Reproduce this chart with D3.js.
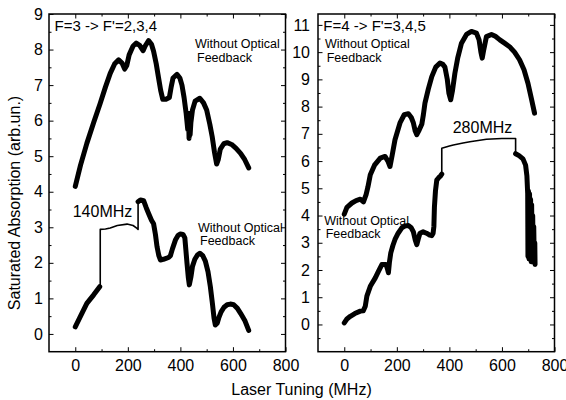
<!DOCTYPE html>
<html>
<head>
<meta charset="utf-8">
<script src="https://d3js.org/d3.v7.min.js"></script>
<style>
  body { margin: 0; background: #fff; }
  svg text { font-family: "Liberation Sans", Arial, Helvetica, sans-serif; fill: #000; }
</style>
</head>
<body>
<svg id="chart" width="566" height="400"></svg>
<script>
// values: [laser tuning (MHz), saturated absorption (arb.un.)]

// F=3 -> F'=2,3,4, without optical feedback
var f3Free = [[0,4.15],[20,4.75],[44,5.36],[70,5.95],[95,6.49],[115,6.95],[133,7.33],[150,7.6],[165,7.71],
  [178,7.62],[188,7.45],[196,7.55],[205,7.85],[220,8.1],[232,8.18],[245,8.12],[258,7.97],[266,8.1],[279,8.25],
  [290,8.15],[298,7.95],[308,7.6],[317,7.2],[325,6.85],[333,6.6],[345,6.6],[358,6.65],[365,6.95],[372,7.2],
  [387,7.3],[398,7.2],[406,7.0],[414,6.65],[422,6.2],[428,5.75],[431,6.2],[433,5.5],[435,6.2],[437,5.6],
  [440,5.95],[446,6.3],[456,6.55],[474,6.63],[488,6.5],[500,6.3],[512,5.9],[521,5.55],[530,5.1],[538,4.78],
  [544,4.9],[552,5.2],[565,5.35],[578,5.38],[595,5.33],[612,5.22],[629,5.08],[645,4.9],[660,4.67]];

// F=3, with feedback: before the jump, the 140 MHz plateau, after the jump
var f3LockA = [[0,0.2],[20,0.5],[44,0.86],[70,1.1],[93,1.33]];
var f3Plateau = [[95,1.33],[95,2.94],[115,2.95],[133,2.98],[160,3.05],[197,3.09],[220,3.05],[235,2.97],
  [239,2.94],[239,3.74]];
var f3LockB = [[239,3.72],[248,3.77],[260,3.75],[270,3.55],[279,3.39],[290,3.2],[298,3.1],[305,2.8],
  [311,2.46],[318,2.2],[324,2.08],[335,2.1],[343,2.12],[355,2.15],[362,2.2],[370,2.4],[381,2.64],[392,2.78],
  [400,2.81],[410,2.8],[417,2.7],[421,2.35],[425,2.0],[430,1.6],[434,1.38],[440,1.6],[446,1.9],[455,2.1],
  [465,2.22],[474,2.27],[485,2.2],[495,2.05],[505,1.75],[514,1.33],[522,0.85],[528,0.45],[533,0.25],
  [540,0.3],[546,0.45],[555,0.62],[566,0.75],[578,0.82],[590,0.84],[603,0.82],[617,0.72],[629,0.58],
  [645,0.38],[660,0.1]];

// F=4 -> F'=3,4,5, without optical feedback
var f4Free = [[0,4.05],[10,4.3],[29,4.46],[45,4.55],[61,4.6],[73,4.5],[83,4.77],[90,5.05],[99,5.5],
  [115,5.85],[137,6.11],[155,6.17],[166,6.0],[174,5.8],[182,6.2],[193,6.78],[212,7.4],[228,7.7],[244,7.74],
  [255,7.6],[263,7.4],[270,7.1],[276,6.97],[283,7.1],[295,7.35],[301,7.7],[307,8.13],[320,8.65],[333,9.1],
  [348,9.45],[364,9.6],[375,9.55],[383,9.45],[392,9.0],[398,8.5],[405,8.25],[412,8.6],[421,9.23],[432,9.8],
  [446,10.33],[465,10.65],[484,10.76],[503,10.7],[513,10.45],[520,10.0],[525,9.78],[531,10.1],[541,10.57],
  [560,10.65],[575,10.58],[592,10.45],[610,10.33],[629,10.2],[648,10.0],[667,9.72],[684,9.35],[699,8.86],
  [712,8.3],[724,7.76]];

// F=4, with feedback: before the jump, the 280 MHz plateau, after the jump
var f4LockA = [[0,0.06],[10,0.2],[23,0.3],[40,0.4],[61,0.49],[72,0.5],[80,0.67],[86,1.04],[99,1.4],
  [118,1.71],[130,1.95],[143,2.2],[159,2.2],[164,2.05],[168,1.9],[172,2.3],[177,2.63],[185,2.9],[193,3.12],
  [205,3.35],[219,3.55],[232,3.62],[244,3.63],[255,3.55],[263,3.4],[270,3.1],[276,2.93],[282,3.15],
  [288,3.35],[300,3.4],[313,3.35],[325,3.28],[333,3.26],[338,3.35],[341,3.6],[343,4.3],[347,4.9],
  [352,5.3],[360,5.4],[366,5.45],[371,5.52]];
var f4Plateau = [[371,5.52],[371,6.47],[400,6.55],[415,6.59],[452,6.66],[478,6.71],[541,6.8],[600,6.83],
  [652,6.83],[652,6.27]];
var f4LockB = [[652,6.27],[665,6.2],[680,6.08],[690,5.85],[695,5.45],[698,4.8],[699,2.5],[701,4.9],
  [703,2.4],[705,4.8],[707,2.4],[709,4.6],[711,2.3],[713,4.4],[715,2.3],[717,4.0],[719,2.4],[721,3.6],
  [723,2.3],[725,3.0],[726,2.2]];

var mhzMajor = [0, 200, 400, 600, 800];
var mhzMinor = [100, 300, 500, 700];
var leftMajor = [0, 1, 2, 3, 4, 5, 6, 7, 8, 9];
var leftMinor = [0.5, 1.5, 2.5, 3.5, 4.5, 5.5, 6.5, 7.5, 8.5];
var rightMajor = [0, 1, 2, 3, 4, 5, 6, 7, 8, 9, 10, 11];
var rightMinor = [-0.5, 0.5, 1.5, 2.5, 3.5, 4.5, 5.5, 6.5, 7.5, 8.5, 9.5, 10.5];

var svg = d3.select('#chart');
var plotTop = 14, plotBottom = 351.7;

function drawPanel(o) {
  var x = d3.scaleLinear().domain([-100, 800]).range([o.left, o.right]);
  var y = d3.scaleLinear().domain(o.yDomain).range([plotBottom, plotTop]);
  var g = svg.append('g');

  function axis(a, tr) {
    var ax = g.append('g').attr('transform', tr).call(a);
    ax.select('.domain').remove();
    ax.attr('font-family', null).attr('font-size', 16);
    ax.selectAll('line').attr('stroke', '#000').attr('stroke-width', 1);
    return ax;
  }
  // major + minor ticks, all pointing inwards, on the four sides
  axis(d3.axisBottom(x).tickValues(mhzMajor).tickSizeInner(-4.5).tickSizeOuter(0).tickPadding(7.5), 'translate(0,' + plotBottom + ')');
  axis(d3.axisBottom(x).tickValues(mhzMinor).tickSize(-2.5).tickFormat(''), 'translate(0,' + plotBottom + ')');
  axis(d3.axisTop(x).tickValues(mhzMajor).tickSize(-4.5).tickFormat(''), 'translate(0,' + plotTop + ')');
  axis(d3.axisTop(x).tickValues(mhzMinor).tickSize(-2.5).tickFormat(''), 'translate(0,' + plotTop + ')');
  axis(d3.axisLeft(y).tickValues(o.major).tickSizeInner(-4.5).tickSizeOuter(0).tickPadding(o.pad), 'translate(' + o.left + ',0)');
  axis(d3.axisLeft(y).tickValues(o.minor).tickSize(-2.5).tickFormat(''), 'translate(' + o.left + ',0)');
  axis(d3.axisRight(y).tickValues(o.major).tickSize(-4.5).tickFormat(''), 'translate(' + o.right + ',0)');
  axis(d3.axisRight(y).tickValues(o.minor).tickSize(-2.5).tickFormat(''), 'translate(' + o.right + ',0)');

  g.append('rect')
    .attr('x', o.left).attr('y', plotTop)
    .attr('width', o.right - o.left).attr('height', plotBottom - plotTop)
    .attr('fill', 'none').attr('stroke', '#000').attr('stroke-width', 1.5);

  var line = d3.line().x(function (d) { return x(d[0]) }).y(function (d) { return y(d[1]) });
  o.series.forEach(function (s) {
    g.append('path')
      .attr('d', line(s.data))
      .attr('fill', 'none')
      .attr('stroke', '#000')
      .attr('stroke-width', s.w)
      .attr('stroke-linejoin', 'round')
      .attr('stroke-linecap', s.w > 2 ? 'round' : 'butt');
  });

  o.notes.forEach(function (n) {
    g.append('text')
      .attr('x', o.left + n[0]).attr('y', plotTop + n[1])
      .attr('font-size', n[3])
      .text(n[2]);
  });
}

drawPanel({
  left: 49, right: 285.5, yDomain: [-0.5, 9], major: leftMajor, minor: leftMinor, pad: 6,
  series: [
    { data: f3Free, w: 5 },
    { data: f3LockA, w: 5 },
    { data: f3Plateau, w: 1.6 },
    { data: f3LockB, w: 5 }
  ],
  notes: [
    [5.5, 17, "F=3 -> F'=2,3,4", 15],
    [146, 34, 'Without Optical', 12.5],
    [148, 47.5, 'Feedback', 12.5],
    [23.7, 203.3, '140MHz', 16],
    [149, 218, 'Without Optical', 12.5],
    [151, 231, 'Feedback', 12.5]
  ]
});

drawPanel({
  left: 318, right: 554.5, yDomain: [-1, 11.4], major: rightMajor, minor: rightMinor, pad: 8,
  series: [
    { data: f4Free, w: 5 },
    { data: f4LockA, w: 5 },
    { data: f4Plateau, w: 1.6 },
    { data: f4LockB, w: 5 }
  ],
  notes: [
    [5.3, 16.7, "F=4 -> F'=3,4,5", 15],
    [7, 33.7, 'Without Optical', 12.5],
    [8.7, 47.5, 'Feedback', 12.5],
    [134.7, 119.3, '280MHz', 16],
    [6.3, 211, 'Without Optical', 12.5],
    [7.7, 224.3, 'Feedback', 12.5]
  ]
});

// axis titles
svg.append('text')
  .attr('transform', 'translate(19.5,203) rotate(-90)')
  .attr('text-anchor', 'middle')
  .attr('font-size', 16)
  .text('Saturated Absorption (arb.un.)');

svg.append('text')
  .attr('x', 301.5).attr('y', 394.5)
  .attr('text-anchor', 'middle')
  .attr('font-size', 16)
  .text('Laser Tuning (MHz)');
</script>
</body>
</html>
